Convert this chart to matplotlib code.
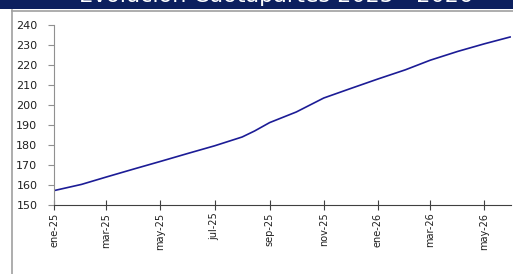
import matplotlib
matplotlib.use("Agg")
import matplotlib.pyplot as plt
from matplotlib.patches import Rectangle
from matplotlib.lines import Line2D
import pandas as pd

title = "Evolución Cuotapartes 2025 - 2026"
dates = ["2025-01-01", "2025-02-01", "2025-03-01", "2025-04-01", "2025-05-01",
         "2025-06-01", "2025-07-01", "2025-08-01", "2025-08-15", "2025-09-01",
         "2025-10-01", "2025-11-01", "2025-12-01", "2026-01-01", "2026-02-01",
         "2026-03-01", "2026-04-01", "2026-05-01", "2026-05-30"]
values = [157.2, 160.3, 164.0, 168.0, 171.8, 175.8, 179.6, 184.0, 187.0, 191.2,
          196.5, 203.5, 208.2, 213.0, 217.6, 222.4, 226.8, 230.6, 234.0]
tick_dates = ["2025-01-01", "2025-03-01", "2025-05-01", "2025-07-01", "2025-09-01",
              "2025-11-01", "2026-01-01", "2026-03-01", "2026-05-01"]
tick_labels = ["ene-25", "mar-25", "may-25", "jul-25", "sep-25",
               "nov-25", "ene-26", "mar-26", "may-26"]
yticks = [150, 160, 170, 180, 190, 200, 210, 220, 230, 240]

W, H = 513, 274
fig = plt.figure(figsize=(W / 100, H / 100), dpi=100)
fig.patch.set_facecolor("white")

# banner
fig.patches.append(Rectangle((0, 1 - 9 / H), 1, 9 / H, transform=fig.transFigure,
                             facecolor="#0c1f5e", edgecolor="none", zorder=0))
fig.text(276 / W, 1 - 2.3 / H, title, color="white", fontsize=16,
         ha="center", va="baseline", family="DejaVu Sans")
# frame lines
fig.lines.append(Line2D([12 / W, 12 / W], [0, 1 - 10 / H], transform=fig.transFigure,
                        color="#a0a0a0", lw=1.2))
fig.lines.append(Line2D([12 / W, 1], [1 - 10.5 / H, 1 - 10.5 / H], transform=fig.transFigure,
                        color="#a0a0a0", lw=1.2))

ax = fig.add_axes([54 / W, (H - 205) / H, (511 - 54) / W, (205 - 25) / H])
x = pd.to_datetime(dates)
ax.plot(x, values, color="#1c1c96", lw=1.2)

ax.set_ylim(150, 240)
ax.set_yticks(yticks)
ax.set_yticklabels([str(v) for v in yticks], fontsize=8, family="DejaVu Sans",
                   color="#202020")
ax.set_xlim(pd.Timestamp("2025-01-01"), pd.Timestamp("2026-05-31"))
ax.set_xticks(pd.to_datetime(tick_dates))
ax.set_xticklabels(tick_labels, rotation=90, fontsize=7, family="DejaVu Sans",
                   color="#202020")

for s in ["top", "right"]:
    ax.spines[s].set_visible(False)
ax.spines["left"].set_color("#909090")
ax.spines["bottom"].set_color("#404040")
ax.tick_params(axis="y", direction="out", length=4, color="#909090", pad=8)
ax.tick_params(axis="x", direction="inout", length=7, color="#404040", pad=2)

fig.savefig("out.png", dpi=100)
